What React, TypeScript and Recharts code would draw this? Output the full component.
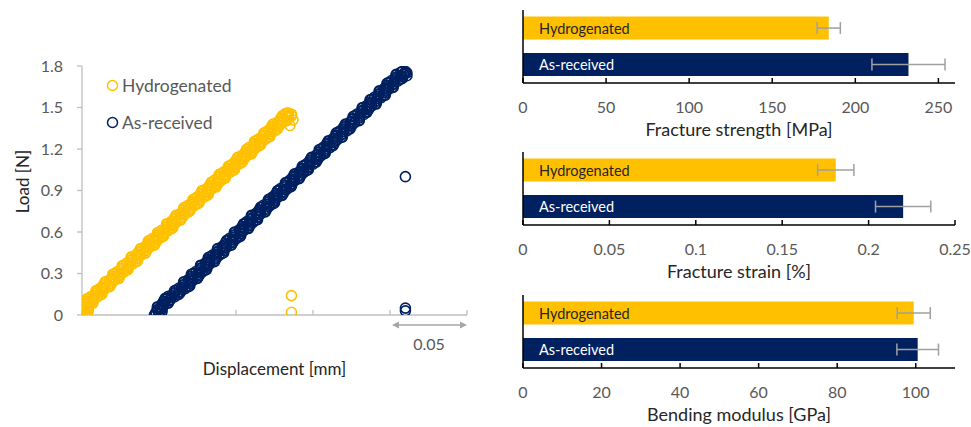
import React from 'react';
import { Bar, BarChart, Cell, ErrorBar, LabelList, Legend, Scatter, ScatterChart, XAxis, YAxis } from 'recharts';

const FONT = 'Lato, "Open Sans", sans-serif';
const YELLOW = '#FFC000';
const NAVY = '#002060';
const TICK_GREY = '#595959';
const AXIS_GREY = '#bfbfbf';

// load–displacement records, [displacement mm, load N]
const hydrogenatedPoints: [number, number][] = [
  [0.000, 0.00], [0.003, 0.01], [0.000, 0.02], [0.004, 0.03], [0.000, 0.04], [0.003, 0.05], [0.000, 0.06], [0.005, 0.07],
  [0.003, 0.08], [0.007, 0.09], [0.003, 0.10], [0.007, 0.11], [0.004, 0.12], [0.010, 0.13], [0.008, 0.14], [0.013, 0.15],
  [0.009, 0.16], [0.012, 0.17], [0.010, 0.18], [0.015, 0.19], [0.013, 0.20], [0.018, 0.21], [0.014, 0.22], [0.018, 0.23],
  [0.015, 0.24], [0.021, 0.25], [0.019, 0.26], [0.024, 0.27], [0.020, 0.28], [0.024, 0.29], [0.021, 0.30], [0.027, 0.31],
  [0.025, 0.32], [0.030, 0.33], [0.026, 0.34], [0.030, 0.35], [0.027, 0.36], [0.033, 0.37], [0.031, 0.38], [0.036, 0.39],
  [0.032, 0.40], [0.036, 0.41], [0.032, 0.42], [0.038, 0.43], [0.036, 0.44], [0.041, 0.45], [0.037, 0.46], [0.041, 0.47],
  [0.038, 0.48], [0.044, 0.49], [0.042, 0.50], [0.047, 0.51], [0.043, 0.52], [0.047, 0.53], [0.044, 0.54], [0.050, 0.55],
  [0.048, 0.56], [0.053, 0.57], [0.049, 0.58], [0.053, 0.59], [0.050, 0.60], [0.056, 0.61], [0.054, 0.62], [0.059, 0.63],
  [0.055, 0.64], [0.058, 0.65], [0.055, 0.66], [0.061, 0.67], [0.059, 0.68], [0.064, 0.69], [0.060, 0.70], [0.064, 0.71],
  [0.061, 0.72], [0.067, 0.73], [0.065, 0.74], [0.070, 0.75], [0.066, 0.76], [0.070, 0.77], [0.067, 0.78], [0.073, 0.79],
  [0.071, 0.80], [0.076, 0.81], [0.072, 0.82], [0.076, 0.83], [0.073, 0.84], [0.079, 0.85], [0.077, 0.86], [0.082, 0.87],
  [0.077, 0.88], [0.081, 0.89], [0.078, 0.90], [0.084, 0.91], [0.082, 0.92], [0.087, 0.93], [0.083, 0.94], [0.087, 0.95],
  [0.084, 0.96], [0.090, 0.97], [0.088, 0.98], [0.093, 0.99], [0.089, 1.00], [0.093, 1.01], [0.090, 1.02], [0.096, 1.03],
  [0.094, 1.04], [0.099, 1.05], [0.095, 1.06], [0.099, 1.07], [0.096, 1.08], [0.102, 1.09], [0.100, 1.10], [0.104, 1.11],
  [0.100, 1.12], [0.104, 1.13], [0.101, 1.14], [0.107, 1.15], [0.105, 1.16], [0.110, 1.17], [0.106, 1.18], [0.110, 1.19],
  [0.107, 1.20], [0.113, 1.21], [0.111, 1.22], [0.116, 1.23], [0.112, 1.24], [0.116, 1.25], [0.113, 1.26], [0.119, 1.27],
  [0.117, 1.28], [0.122, 1.29], [0.118, 1.30], [0.122, 1.31], [0.119, 1.32], [0.125, 1.33], [0.123, 1.34], [0.127, 1.35],
  [0.123, 1.36], [0.127, 1.37], [0.124, 1.38], [0.130, 1.39], [0.128, 1.40], [0.133, 1.41], [0.129, 1.42], [0.133, 1.43],
  [0.130, 1.44], [0.136, 1.45], [0.134, 1.46], [0.136, 1.44], [0.137, 1.41], [0.135, 1.37], [0.133, 1.46], [0.136, 1.45],
  [0.002, 0.005], [0.000, 0.015], [0.004, 0.025], [0.001, 0.035], [0.004, 0.045], [0.000, 0.055], [0.004, 0.065], [0.002, 0.075],
  [0.007, 0.085], [0.004, 0.095], [0.007, 0.105], [0.003, 0.115], [0.008, 0.125], [0.006, 0.135], [0.012, 0.145], [0.009, 0.155],
  [0.013, 0.165], [0.009, 0.175], [0.014, 0.185], [0.012, 0.195], [0.018, 0.205], [0.015, 0.215], [0.019, 0.225], [0.015, 0.235],
  [0.020, 0.245], [0.018, 0.255], [0.024, 0.265], [0.021, 0.275], [0.024, 0.285], [0.020, 0.295], [0.025, 0.305], [0.023, 0.315],
  [0.029, 0.325], [0.026, 0.335], [0.030, 0.345], [0.026, 0.355], [0.031, 0.365], [0.029, 0.375], [0.035, 0.385], [0.032, 0.395],
  [0.036, 0.405], [0.032, 0.415], [0.037, 0.425], [0.035, 0.435], [0.041, 0.445], [0.038, 0.455], [0.042, 0.465], [0.038, 0.475],
  [0.043, 0.485], [0.041, 0.495], [0.047, 0.505], [0.044, 0.515], [0.048, 0.525], [0.043, 0.535], [0.048, 0.545], [0.046, 0.555],
  [0.052, 0.565], [0.049, 0.575], [0.053, 0.585], [0.049, 0.595], [0.054, 0.605], [0.052, 0.615], [0.058, 0.625], [0.055, 0.635],
  [0.059, 0.645], [0.055, 0.655], [0.060, 0.665], [0.058, 0.675], [0.064, 0.685], [0.061, 0.695], [0.065, 0.705], [0.061, 0.715],
  [0.066, 0.725], [0.064, 0.735], [0.069, 0.745], [0.066, 0.755], [0.070, 0.765], [0.066, 0.775], [0.071, 0.785], [0.069, 0.795],
  [0.075, 0.805], [0.072, 0.815], [0.076, 0.825], [0.072, 0.835], [0.077, 0.845], [0.075, 0.855], [0.081, 0.865], [0.078, 0.875],
  [0.082, 0.885], [0.078, 0.895], [0.083, 0.905], [0.081, 0.915], [0.087, 0.925], [0.084, 0.935], [0.088, 0.945], [0.084, 0.955],
  [0.089, 0.965], [0.086, 0.975], [0.092, 0.985], [0.089, 0.995], [0.093, 1.005], [0.089, 1.015], [0.094, 1.025], [0.092, 1.035],
  [0.098, 1.045], [0.095, 1.055], [0.099, 1.065], [0.095, 1.075], [0.100, 1.085], [0.098, 1.095], [0.104, 1.105], [0.101, 1.115],
  [0.105, 1.125], [0.101, 1.135], [0.106, 1.145], [0.104, 1.155], [0.110, 1.165], [0.107, 1.175], [0.111, 1.185], [0.107, 1.195],
  [0.112, 1.205], [0.109, 1.215], [0.115, 1.225], [0.112, 1.235], [0.116, 1.245], [0.112, 1.255], [0.117, 1.265], [0.115, 1.275],
  [0.121, 1.285], [0.118, 1.295], [0.122, 1.305], [0.118, 1.315], [0.123, 1.325], [0.121, 1.335], [0.127, 1.345], [0.124, 1.355],
  [0.128, 1.365], [0.124, 1.375], [0.129, 1.385], [0.127, 1.395], [0.133, 1.405], [0.130, 1.415], [0.134, 1.425], [0.130, 1.435],
  [0.134, 1.445], [0.132, 1.455],
  [0.136, 0.14], [0.136, 0.02],
];

const asReceivedPoints: [number, number][] = [
  [0.047, 0.00], [0.050, 0.01], [0.048, 0.02], [0.051, 0.03], [0.049, 0.04], [0.051, 0.05], [0.049, 0.06], [0.053, 0.07],
  [0.052, 0.08], [0.056, 0.09], [0.053, 0.10], [0.057, 0.11], [0.054, 0.12], [0.060, 0.13], [0.058, 0.14], [0.063, 0.15],
  [0.060, 0.16], [0.063, 0.17], [0.061, 0.18], [0.067, 0.19], [0.065, 0.20], [0.070, 0.21], [0.066, 0.22], [0.069, 0.23],
  [0.066, 0.24], [0.072, 0.25], [0.070, 0.26], [0.075, 0.27], [0.071, 0.28], [0.075, 0.29], [0.072, 0.30], [0.078, 0.31],
  [0.076, 0.32], [0.081, 0.33], [0.077, 0.34], [0.080, 0.35], [0.077, 0.36], [0.083, 0.37], [0.081, 0.38], [0.086, 0.39],
  [0.082, 0.40], [0.086, 0.41], [0.083, 0.42], [0.089, 0.43], [0.087, 0.44], [0.092, 0.45], [0.088, 0.46], [0.091, 0.47],
  [0.088, 0.48], [0.094, 0.49], [0.092, 0.50], [0.097, 0.51], [0.093, 0.52], [0.097, 0.53], [0.094, 0.54], [0.100, 0.55],
  [0.098, 0.56], [0.103, 0.57], [0.099, 0.58], [0.103, 0.59], [0.099, 0.60], [0.105, 0.61], [0.103, 0.62], [0.108, 0.63],
  [0.104, 0.64], [0.108, 0.65], [0.105, 0.66], [0.111, 0.67], [0.109, 0.68], [0.114, 0.69], [0.110, 0.70], [0.114, 0.71],
  [0.110, 0.72], [0.116, 0.73], [0.114, 0.74], [0.119, 0.75], [0.115, 0.76], [0.119, 0.77], [0.116, 0.78], [0.122, 0.79],
  [0.120, 0.80], [0.125, 0.81], [0.121, 0.82], [0.125, 0.83], [0.122, 0.84], [0.127, 0.85], [0.125, 0.86], [0.130, 0.87],
  [0.126, 0.88], [0.130, 0.89], [0.127, 0.90], [0.133, 0.91], [0.131, 0.92], [0.136, 0.93], [0.132, 0.94], [0.136, 0.95],
  [0.133, 0.96], [0.138, 0.97], [0.137, 0.98], [0.141, 0.99], [0.137, 1.00], [0.141, 1.01], [0.138, 1.02], [0.144, 1.03],
  [0.142, 1.04], [0.147, 1.05], [0.143, 1.06], [0.147, 1.07], [0.144, 1.08], [0.150, 1.09], [0.148, 1.10], [0.152, 1.11],
  [0.148, 1.12], [0.152, 1.13], [0.149, 1.14], [0.155, 1.15], [0.153, 1.16], [0.158, 1.17], [0.154, 1.18], [0.158, 1.19],
  [0.155, 1.20], [0.161, 1.21], [0.159, 1.22], [0.163, 1.23], [0.159, 1.24], [0.163, 1.25], [0.160, 1.26], [0.166, 1.27],
  [0.164, 1.28], [0.169, 1.29], [0.165, 1.30], [0.169, 1.31], [0.166, 1.32], [0.172, 1.33], [0.170, 1.34], [0.174, 1.35],
  [0.170, 1.36], [0.174, 1.37], [0.171, 1.38], [0.177, 1.39], [0.175, 1.40], [0.180, 1.41], [0.176, 1.42], [0.180, 1.43],
  [0.177, 1.44], [0.183, 1.45], [0.181, 1.46], [0.185, 1.47], [0.182, 1.48], [0.185, 1.49], [0.182, 1.50], [0.188, 1.51],
  [0.186, 1.52], [0.191, 1.53], [0.187, 1.54], [0.191, 1.55], [0.188, 1.56], [0.194, 1.57], [0.192, 1.58], [0.197, 1.59],
  [0.193, 1.60], [0.196, 1.61], [0.193, 1.62], [0.199, 1.63], [0.197, 1.64], [0.202, 1.65], [0.198, 1.66], [0.202, 1.67],
  [0.199, 1.68], [0.205, 1.69], [0.203, 1.70], [0.208, 1.71], [0.204, 1.72], [0.207, 1.73], [0.204, 1.74], [0.210, 1.75],
  [0.208, 1.76], [0.210, 1.76], [0.211, 1.75], [0.209, 1.74], [0.211, 1.73],
  [0.050, 0.005], [0.048, 0.015], [0.052, 0.025], [0.049, 0.035], [0.052, 0.045], [0.049, 0.055], [0.053, 0.065], [0.052, 0.075],
  [0.056, 0.085], [0.054, 0.095], [0.057, 0.105], [0.054, 0.115], [0.058, 0.125], [0.056, 0.135], [0.062, 0.145], [0.060, 0.155],
  [0.064, 0.165], [0.060, 0.175], [0.065, 0.185], [0.063, 0.195], [0.069, 0.205], [0.066, 0.215], [0.070, 0.225], [0.066, 0.235],
  [0.071, 0.245], [0.069, 0.255], [0.075, 0.265], [0.072, 0.275], [0.076, 0.285], [0.071, 0.295], [0.076, 0.305], [0.074, 0.315],
  [0.080, 0.325], [0.077, 0.335], [0.081, 0.345], [0.077, 0.355], [0.082, 0.365], [0.080, 0.375], [0.086, 0.385], [0.083, 0.395],
  [0.087, 0.405], [0.082, 0.415], [0.087, 0.425], [0.085, 0.435], [0.091, 0.445], [0.088, 0.455], [0.092, 0.465], [0.088, 0.475],
  [0.093, 0.485], [0.091, 0.495], [0.097, 0.505], [0.094, 0.515], [0.098, 0.525], [0.094, 0.535], [0.098, 0.545], [0.096, 0.555],
  [0.102, 0.565], [0.099, 0.575], [0.103, 0.585], [0.099, 0.595], [0.104, 0.605], [0.102, 0.615], [0.108, 0.625], [0.105, 0.635],
  [0.109, 0.645], [0.105, 0.655], [0.109, 0.665], [0.107, 0.675], [0.113, 0.685], [0.110, 0.695], [0.114, 0.705], [0.110, 0.715],
  [0.115, 0.725], [0.113, 0.735], [0.119, 0.745], [0.116, 0.755], [0.120, 0.765], [0.116, 0.775], [0.121, 0.785], [0.118, 0.795],
  [0.124, 0.805], [0.121, 0.815], [0.125, 0.825], [0.121, 0.835], [0.126, 0.845], [0.124, 0.855], [0.130, 0.865], [0.127, 0.875],
  [0.131, 0.885], [0.127, 0.895], [0.132, 0.905], [0.129, 0.915], [0.135, 0.925], [0.132, 0.935], [0.136, 0.945], [0.132, 0.955],
  [0.137, 0.965], [0.135, 0.975], [0.141, 0.985], [0.138, 0.995], [0.142, 1.005], [0.138, 1.015], [0.143, 1.025], [0.141, 1.035],
  [0.146, 1.045], [0.143, 1.055], [0.147, 1.065], [0.143, 1.075], [0.148, 1.085], [0.146, 1.095], [0.152, 1.105], [0.149, 1.115],
  [0.153, 1.125], [0.149, 1.135], [0.154, 1.145], [0.152, 1.155], [0.157, 1.165], [0.154, 1.175], [0.158, 1.185], [0.154, 1.195],
  [0.159, 1.205], [0.157, 1.215], [0.163, 1.225], [0.160, 1.235], [0.164, 1.245], [0.160, 1.255], [0.165, 1.265], [0.163, 1.275],
  [0.169, 1.285], [0.165, 1.295], [0.169, 1.305], [0.165, 1.315], [0.170, 1.325], [0.168, 1.335], [0.174, 1.345], [0.171, 1.355],
  [0.175, 1.365], [0.171, 1.375], [0.176, 1.385], [0.174, 1.395], [0.180, 1.405], [0.176, 1.415], [0.180, 1.425], [0.176, 1.435],
  [0.181, 1.445], [0.179, 1.455], [0.185, 1.465], [0.182, 1.475], [0.186, 1.485], [0.182, 1.495], [0.187, 1.505], [0.185, 1.515],
  [0.191, 1.525], [0.188, 1.535], [0.191, 1.545], [0.187, 1.555], [0.192, 1.565], [0.190, 1.575], [0.196, 1.585], [0.193, 1.595],
  [0.197, 1.605], [0.193, 1.615], [0.198, 1.625], [0.196, 1.635], [0.202, 1.645], [0.199, 1.655], [0.202, 1.665], [0.198, 1.675],
  [0.203, 1.685], [0.201, 1.695], [0.207, 1.705], [0.204, 1.715], [0.208, 1.725], [0.204, 1.735], [0.209, 1.745], [0.207, 1.755],
  [0.210, 1.00], [0.210, 0.05], [0.210, 0.03],
];

const displacementTicks = [0, 0.05, 0.1, 0.15, 0.2, 0.25];
const loadTicks = [0, 0.3, 0.6, 0.9, 1.2, 1.5, 1.8];

// bar panels
const groups = ['Hydrogenated', 'As-received'];
const groupColors = [YELLOW, NAVY];
const strengthMean = [184, 232];
const strengthErr = [7, 22];
const strainMean = [0.181, 0.22];
const strainErr = [0.0105, 0.016];
const modulusMean = [99.5, 100.5];
const modulusErr = [4.2, 5.3];

const strengthTicks = [0, 50, 100, 150, 200, 250];
const strainTicks = [0, 0.05, 0.1, 0.15, 0.2, 0.25];
const modulusTicks = [0, 20, 40, 60, 80, 100];

const ring = (color: string) => (props: any) => (
  <circle cx={props.cx} cy={props.cy} r={5} fill="none" stroke={color} strokeWidth={1.6} />
);

const renderLegend = (props: any) => {
  const items = [...(props.payload || [])].sort(
    (a: any, b: any) => groups.indexOf(a.value) - groups.indexOf(b.value)
  );
  return (
    <div style={{ fontFamily: FONT, fontSize: 17.5, color: TICK_GREY }}>
      {items.map((entry: any) => (
        <div key={entry.value} style={{ display: 'flex', alignItems: 'center', height: 37 }}>
          <svg width={13} height={13} style={{ marginRight: 3 }}>
            <circle cx={6.5} cy={6.5} r={5} fill="none" stroke={entry.color} strokeWidth={1.5} />
          </svg>
          <span>{entry.value}</span>
        </div>
      ))}
    </div>
  );
};

const renderBarLabel = (props: any) => {
  const x = Number(props.x);
  const y = Number(props.y);
  const h = Number(props.height);
  return (
    <text
      x={x + 16}
      y={y + h / 2}
      dominantBaseline="central"
      fontFamily={FONT}
      fontSize={14.5}
      fill={props.value === 'As-received' ? '#ffffff' : '#262626'}
    >
      {props.value}
    </text>
  );
};

const LoadLabel = (props: any) => {
  const vb = props.viewBox;
  const cx = vb.x - 20;
  const cy = vb.y + vb.height / 2 - 9;
  return (
    <text x={cx} y={cy} transform={`rotate(-90 ${cx} ${cy})`} textAnchor="middle" dominantBaseline="central"
      fontFamily={FONT} fontSize={17} fill="#262626">
      Load [N]
    </text>
  );
};

interface BarPanelProps {
  top: number;
  means: number[];
  errs: number[];
  domain: [number, number];
  ticks: number[];
  title: string;
}

const BarPanel: React.FC<BarPanelProps> = ({ top, means, errs, domain, ticks, title }) => {
  const data = groups.map((name, i) => ({ name, value: means[i], err: errs[i] }));
  return (
    <div style={{ position: 'absolute', left: 500, top }}>
      <BarChart
        width={471}
        height={142}
        data={data}
        layout="vertical"
        margin={{ top: 10, right: 16, left: 13, bottom: 29 }}
        barCategoryGap="18%"
      >
        <XAxis
          type="number"
          domain={domain}
          ticks={ticks}
          allowDataOverflow
          height={30}
          axisLine={{ stroke: '#000', strokeWidth: 1.5 }}
          tickLine={{ stroke: '#000', strokeWidth: 1.5 }}
          tickSize={-5}
          tickMargin={24}
          tick={{ fill: TICK_GREY, fontSize: 16, fontFamily: FONT }}
          label={{ value: title, position: 'bottom', offset: 10, fill: '#262626', fontSize: 18, fontFamily: FONT }}
        />
        <YAxis
          type="category"
          dataKey="name"
          width={10}
          tick={false}
          tickLine={false}
          axisLine={{ stroke: '#000', strokeWidth: 1.5 }}
        />
        <Bar dataKey="value" isAnimationActive={false}>
          {data.map((d, i) => (
            <Cell key={d.name} fill={groupColors[i]} />
          ))}
          <ErrorBar dataKey="err" direction="x" width={6} stroke="#a0a0a0" strokeWidth={1.5} />
          <LabelList dataKey="name" content={renderBarLabel} />
        </Bar>
      </BarChart>
    </div>
  );
};

export default function App() {
  const hydro = hydrogenatedPoints.map(([x, y]) => ({ x, y }));
  const asRec = asReceivedPoints.map(([x, y]) => ({ x, y }));

  return (
    <div style={{ position: 'absolute', left: 0, top: 0, width: 971, height: 427, background: '#fff', overflow: 'hidden' }}>
      <div style={{ position: 'absolute', left: 0, top: 0 }}>
        <ScatterChart width={480} height={400} margin={{ top: 66, right: 13, left: 42, bottom: 55 }}>
          <XAxis
            type="number"
            dataKey="x"
            domain={[0, 0.25]}
            ticks={displacementTicks}
            allowDataOverflow
            height={30}
            axisLine={{ stroke: AXIS_GREY, strokeWidth: 1.3 }}
            tickLine={{ stroke: AXIS_GREY, strokeWidth: 1.3 }}
            tickSize={-5}
            tickFormatter={() => ''}
            label={{ value: 'Displacement [mm]', position: 'bottom', offset: 18, fill: '#262626', fontSize: 17, fontFamily: FONT }}
          />
          <YAxis
            type="number"
            dataKey="y"
            domain={[0, 1.8]}
            ticks={loadTicks}
            allowDataOverflow
            width={40}
            axisLine={{ stroke: AXIS_GREY, strokeWidth: 1.3 }}
            tickLine={{ stroke: AXIS_GREY, strokeWidth: 1.3 }}
            tickSize={5}
            tickMargin={14}
            tick={{ fill: TICK_GREY, fontSize: 16, fontFamily: FONT }}
            label={<LoadLabel />}
          />
          <Legend
            layout="vertical"
            align="center"
            verticalAlign="middle"
            content={renderLegend}
            wrapperStyle={{ left: 106, top: 67, width: 170 }}
          />
          <Scatter name="Hydrogenated" data={hydro} fill={YELLOW} shape={ring(YELLOW)} isAnimationActive={false} />
          <Scatter name="As-received" data={asRec} fill={NAVY} shape={ring(NAVY)} isAnimationActive={false} />
        </ScatterChart>
      </div>

      {/* 0.05 mm scale bar under the displacement axis */}
      <svg style={{ position: 'absolute', left: 380, top: 315 }} width={100} height={40}>
        <line x1={15} y1={10} x2={84} y2={10} stroke="#a6a6a6" strokeWidth={1.5} />
        <path d="M12,10 L19,6.5 L19,13.5 Z" fill="#a6a6a6" />
        <path d="M87,10 L80,6.5 L80,13.5 Z" fill="#a6a6a6" />
        <text x={49} y={28} textAnchor="middle" dominantBaseline="central" fontFamily={FONT} fontSize={16} fill={TICK_GREY}>
          0.05
        </text>
      </svg>

      <BarPanel top={0} means={strengthMean} errs={strengthErr} domain={[0, 260]} ticks={strengthTicks} title="Fracture strength [MPa]" />
      <BarPanel top={142} means={strainMean} errs={strainErr} domain={[0, 0.25]} ticks={strainTicks} title="Fracture strain [%]" />
      <BarPanel top={285} means={modulusMean} errs={modulusErr} domain={[0, 110]} ticks={modulusTicks} title="Bending modulus [GPa]" />
    </div>
  );
}
